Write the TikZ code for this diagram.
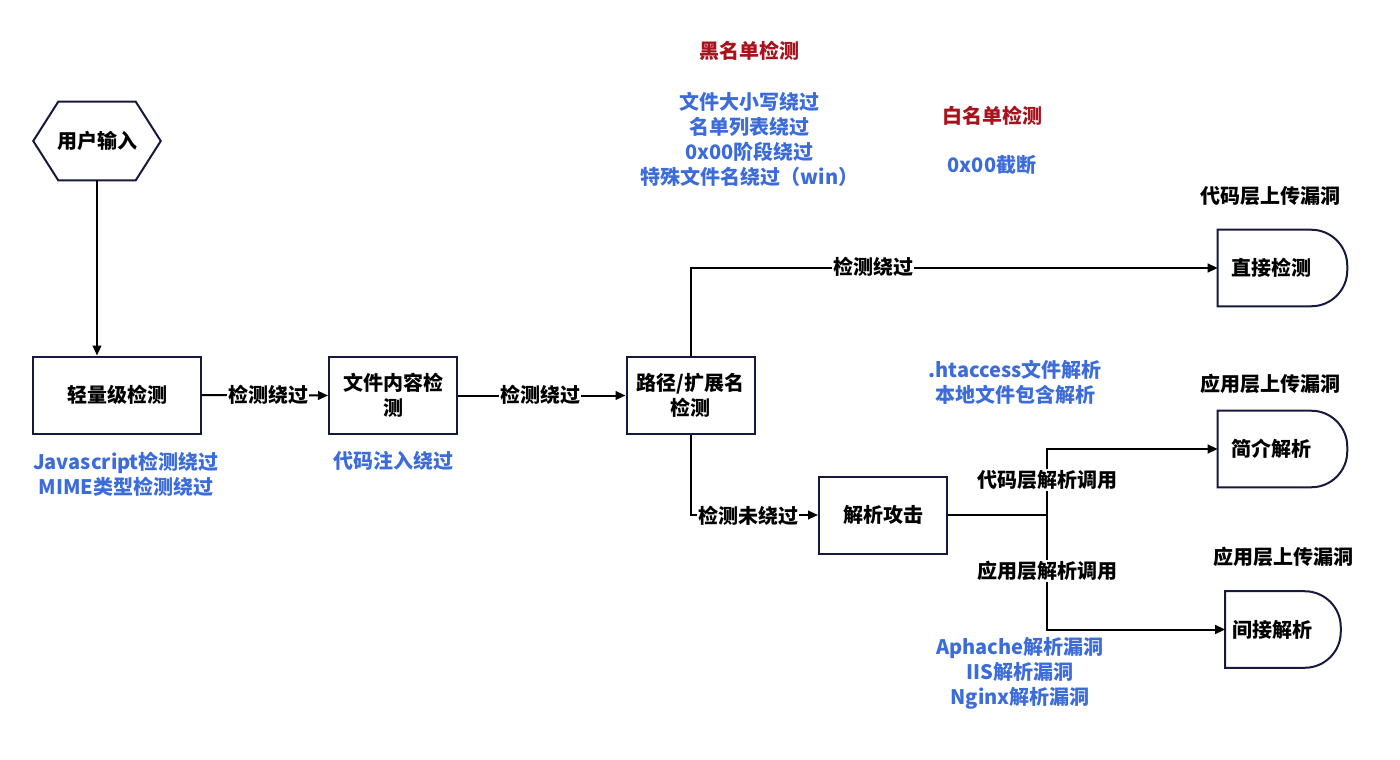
\documentclass[tikz,border=0pt]{standalone}
\usepackage{fontspec}
\setmainfont{Noto Sans CJK SC}
\usetikzlibrary{arrows.meta,calc}
\definecolor{navy}{RGB}{22,24,62}
\definecolor{myblue}{RGB}{60,108,218}
\definecolor{myred}{RGB}{168,18,28}
\begin{document}
\begin{tikzpicture}[x=0.75pt,y=-0.75pt,
  every node/.style={font=\fontsize{15pt}{18.75pt}\selectfont\bfseries, inner sep=0pt},
  box/.style={draw=navy, line width=1.5pt, minimum width=96pt, minimum height=57.75pt, align=center},
  dshape/.style={minimum width=96.75pt, minimum height=57pt},
  hexshape/.style={minimum width=95.25pt, minimum height=58.5pt},
  conn/.style={line width=1.5pt, -{Triangle[length=7.5pt,width=6.5pt]}},
  plainline/.style={line width=1.5pt},
  lbl/.style={fill=white, inner sep=1pt},
  note/.style={text=myblue, align=center},
  head/.style={text=myred},
  outline/.style={draw=navy, line width=1.5pt}
]
\useasboundingbox (0,0) rectangle (1400,760);

% nodes
\node[hexshape] (in) at (97,141) {用户输入};
\draw[outline] (in.west) -- ([xshift=18.75pt]in.north west) -- ([xshift=-18.75pt]in.north east)
  -- (in.east) -- ([xshift=-18.75pt]in.south east) -- ([xshift=18.75pt]in.south west) -- cycle;

\node[box, minimum width=126pt] (light) at (117,395) {轻量级检测};
\node[box] (content) at (393,395.5) {文件内容检\\测};
\node[box] (path) at (690.5,395.5) {路径/扩展名\\检测};
\node[box] (parse) at (883,515) {解析攻击};

\node[dshape] (direct) at (1282.5,268) {};
\node[dshape] (brief) at (1282.5,449) {};
\node[dshape, minimum width=86.25pt] (indirect) at (1283,629.5) {};
\foreach \n in {direct,brief,indirect}{
  \draw[outline] (\n.south west) -- (\n.north west) [rounded corners=27pt] -- (\n.north east)
    -- (\n.south east) [sharp corners] -- cycle;
}
\node (directtxt) at (1271,268) {直接检测};
\node (brieftxt) at (1271,449) {简介解析};
\node (indirecttxt) at (1272,630) {间接解析};

% connectors
\draw[conn] (in.south) -- (in.south |- light.north);
\draw[conn] (light.east) -- (content.west);
\draw[conn] (content.east) -- (path.west);
\draw[conn] (path.north) |- (direct.west);
\draw[conn] (path.south) |- (parse.west);
\coordinate (j) at (1047,515);
\draw[plainline] (parse.east) -- (j);
\draw[conn] (j) |- (brief.west);
\draw[conn] (j) |- (indirect.west);

% connector labels
\node[lbl] (l1) at (268,395) {检测绕过};
\node[lbl] (l2) at (540,395) {检测绕过};
\node[lbl] (l3) at (873,267) {检测绕过};
\node[lbl] (l4) at (748,516) {检测未绕过};
\node[lbl] (l5) at (1047,480) {代码层解析调用};
\node[lbl] (l6) at (1047,571) {应用层解析调用};

% titles
\node (t1) at (1270,196) {代码层上传漏洞};
\node (t2) at (1270,384) {应用层上传漏洞};
\node (t3) at (1283,557) {应用层上传漏洞};

\node[head] (black) at (749,51) {黑名单检测};
\node[head] (white) at (992,116) {白名单检测};

% blue notes
\node[note] (n1) at (126,474.5) {Javascript检测绕过\\MIME类型检测绕过};
\node[note] (n2) at (393,461) {代码注入绕过};
\node[note] (n3) at (749.5,139.5) {文件大小写绕过\\名单列表绕过\\0x00阶段绕过\\特殊文件名绕过（win）};
\node[note] (n4) at (992,165) {0x00截断};
\node[note] (n5) at (1015,382.5) {.htaccess文件解析\\本地文件包含解析};
\node[note] (n6) at (1020,673) {Aphache解析漏洞\\IIS解析漏洞\\Nginx解析漏洞};
\end{tikzpicture}
\end{document}
